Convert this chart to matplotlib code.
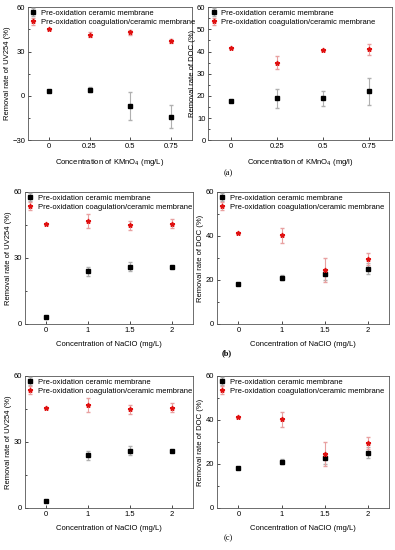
import numpy as np
import matplotlib
matplotlib.use("Agg")
import matplotlib.pyplot as plt
from matplotlib.ticker import AutoMinorLocator

plt.rcParams['font.family'] = ['Liberation Sans', 'DejaVu Sans']
plt.rcParams['font.size'] = 5.5

kmno4_labels = ['0', '0.25', '0.5', '0.75']
naclo_labels = ['0', '1', '1.5', '2']

# (a) KMnO4
uv_k_black = [3.2, 4.3, -7.0, -14.0]
uv_k_black_err = [0.5, 1.5, 9.3, 7.5]
uv_k_red = [45.3, 41.4, 43.0, 37.2]
uv_k_red_err = [0.8, 1.5, 1.5, 1.5]

doc_k_black = [17.8, 18.9, 18.9, 22.0]
doc_k_black_err = [0.4, 4.3, 3.5, 6.2]
doc_k_red = [41.5, 35.0, 40.7, 41.0]
doc_k_red_err = [0.5, 2.8, 0.5, 2.5]

# (b), (c) NaClO
uv_n_black = [3.0, 24.0, 26.0, 25.7]
uv_n_black_err = [0.3, 2.0, 2.0, 0.4]
uv_n_red = [45.4, 46.8, 44.8, 45.6]
uv_n_red_err = [0.5, 3.2, 2.0, 2.0]

doc_n_black = [18.0, 21.1, 22.7, 25.2]
doc_n_black_err = [0.3, 1.3, 2.5, 2.3]
doc_n_red = [41.5, 40.3, 24.5, 29.5]
doc_n_red_err = [0.5, 3.3, 5.3, 2.8]

lab_black = 'Pre-oxidation ceramic membrane'
lab_red = 'Pre-oxidation coagulation/ceramic membrane'

fig = plt.figure(figsize=(3.95, 5.5), dpi=100)


def panel(rect, cats, black, black_err, red, red_err, ylim, yticks, ylabel, xlabel):
    ax = fig.add_axes(rect)
    x = np.arange(len(cats))
    ax.errorbar(x, black, yerr=black_err, fmt='s', color='black', ms=2.2,
                ecolor='#b0b0b0', elinewidth=0.8, capsize=1.2, label=lab_black)
    ax.errorbar(x, red, yerr=red_err, fmt='*', color='#e01010', ms=3.5,
                ecolor='#e8a0a0', elinewidth=0.8, capsize=1.2, label=lab_red)
    ax.set_xlim(-0.5, len(cats) - 0.5)
    ax.set_xticks(x)
    ax.set_xticklabels(cats)
    ax.set_ylim(*ylim)
    ax.set_yticks(yticks)
    ax.yaxis.set_minor_locator(AutoMinorLocator(2))
    ax.tick_params(direction='in', length=2, width=0.5, pad=2)
    ax.tick_params(which='minor', direction='in', length=1.2, width=0.5)
    ax.set_ylabel(ylabel, labelpad=1)
    ax.set_xlabel(xlabel, labelpad=5)
    for s in ax.spines.values():
        s.set_linewidth(0.6)
        s.set_color('#555555')
    ax.legend(loc='upper left', frameon=False, handlelength=0.8, handletextpad=0.6,
              borderaxespad=0.1, labelspacing=0.25, borderpad=0.2)
    return ax


panel([0.071, 0.745, 0.415, 0.242], kmno4_labels, uv_k_black, uv_k_black_err,
      uv_k_red, uv_k_red_err, (-30, 60), [-30, 0, 30, 60],
      'Removal rate of UV254 (%)', 'Concentration of KMnO$_4$ (mg/L)')
panel([0.527, 0.745, 0.465, 0.242], kmno4_labels, doc_k_black, doc_k_black_err,
      doc_k_red, doc_k_red_err, (0, 60), [0, 10, 20, 30, 40, 50, 60],
      'Removal rate of DOC (%)', 'Concentration of KMnO$_4$ (mg/l)')

for bottom in (0.411, 0.0764):
    panel([0.063, bottom, 0.425, 0.24], naclo_labels, uv_n_black, uv_n_black_err,
          uv_n_red, uv_n_red_err, (0, 60), [0, 30, 60],
          'Removal rate of UV254 (%)', 'Concentration of NaClO (mg/L)')
    panel([0.549, bottom, 0.437, 0.24], naclo_labels, doc_n_black, doc_n_black_err,
          doc_n_red, doc_n_red_err, (0, 60), [0, 20, 40, 60],
          'Removal rate of DOC (%)', 'Concentration of NaClO (mg/L)')

fig.text(0.565, 1 - 173 / 550, '(a)', fontsize=6, family='Liberation Serif', va='center')
fig.text(0.562, 1 - 353 / 550, '(b)', fontsize=6, family='Liberation Serif',
         weight='bold', va='center')
fig.text(0.565, 1 - 538 / 550, '(c)', fontsize=6, family='Liberation Serif', va='center')

fig.savefig('out.png', dpi=100)
